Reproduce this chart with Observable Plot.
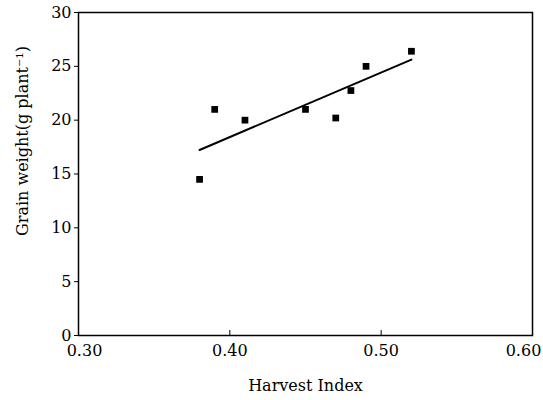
<!DOCTYPE html>
<html>
<head>
<meta charset="utf-8">
<script src="https://cdn.jsdelivr.net/npm/d3@7"></script>
<script src="https://cdn.jsdelivr.net/npm/@observablehq/plot@0.6"></script>
<style>
  html, body { margin: 0; padding: 0; background: white; }
</style>
</head>
<body>
<div id="chart"></div>
<script>
const harvestIndex = [0.38, 0.39, 0.41, 0.45, 0.47, 0.48, 0.49, 0.52];
const grainWeight = [14.5, 21.0, 20.0, 21.0, 20.2, 22.75, 25.0, 26.4];
const xTicks = [0.30, 0.40, 0.50, 0.60];
const yTicks = [0, 5, 10, 15, 20, 25, 30];
const xLabel = "Harvest Index";
const yLabel = "Grain weight(g plant\u207B\u00B9)";

const data = harvestIndex.map((h, i) => ({h, g: grainWeight[i]}));
const fmt = d3.format(".2f");
const xLabelOpts = {tickSize: 0, tickPadding: 9, label: null, tickFormat: fmt, fontSize: 16};

const chart = Plot.plot({
  width: 543,
  height: 400,
  marginLeft: 78,
  marginRight: 11,
  marginTop: 12,
  marginBottom: 65,
  style: {fontFamily: "DejaVu Serif", fontSize: "16px", background: "white", color: "black"},
  x: {domain: [0.3, 0.6]},
  y: {domain: [0, 30]},
  marks: [
    Plot.frame({stroke: "black", strokeWidth: 1.5}),
    Plot.axisY({ticks: yTicks, tickSize: 4, tickPadding: 3, label: null, tickFormat: d => String(d), fontSize: 16}),
    Plot.axisX({ticks: xTicks, tickSize: -5, label: null, tickFormat: () => ""}),
    Plot.axisX({...xLabelOpts, ticks: xTicks.slice(1, 3)}),
    Plot.axisX({...xLabelOpts, ticks: xTicks.slice(0, 1), dx: 6}),
    Plot.axisX({...xLabelOpts, ticks: xTicks.slice(3), dx: -9}),
    Plot.linearRegressionY(data, {x: "h", y: "g", ci: 0, stroke: "black", strokeWidth: 2}),
    Plot.dot(data, {x: "h", y: "g", symbol: "square", fill: "black", r: 3.8}),
    Plot.text([xLabel], {frameAnchor: "bottom", dy: 55, fontSize: 16}),
    Plot.text([yLabel], {frameAnchor: "left", textAnchor: "middle", rotate: -90, dx: -56, dy: -33, fontSize: 16})
  ]
});
document.getElementById("chart").appendChild(chart);
</script>
</body>
</html>
